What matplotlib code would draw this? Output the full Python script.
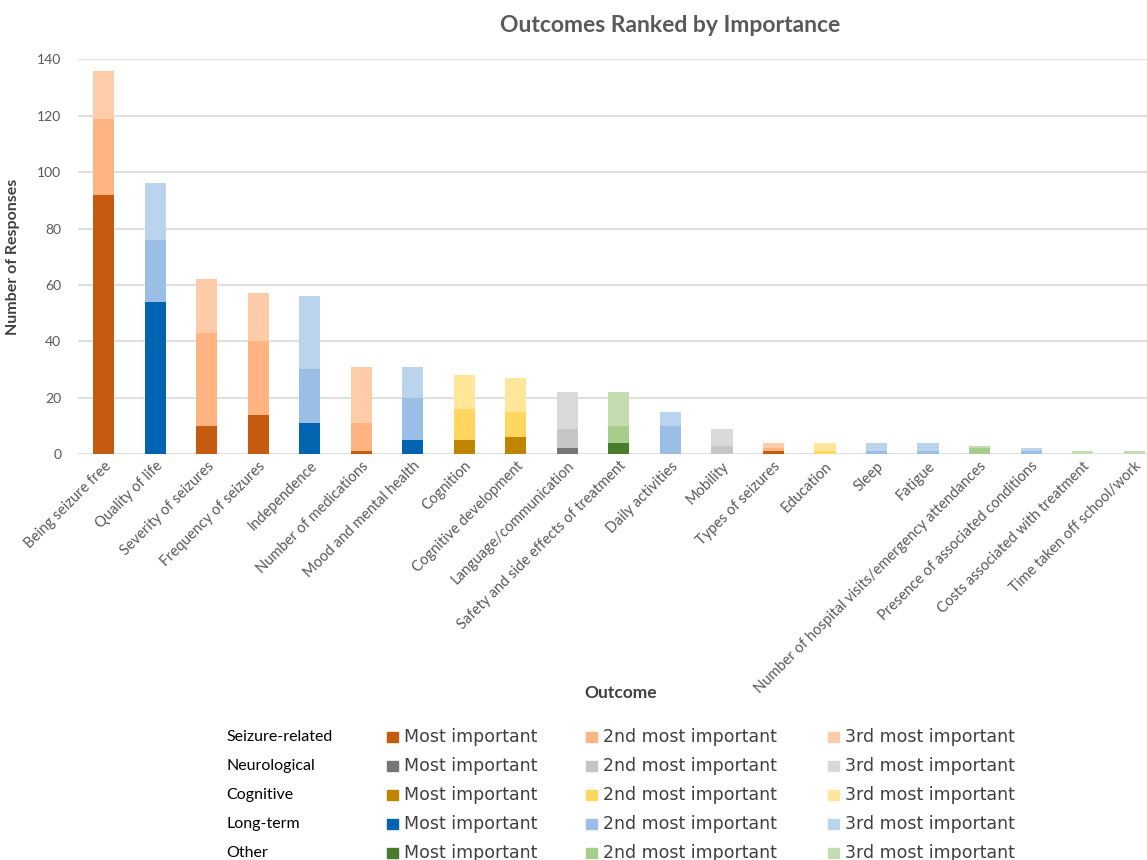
"""Stacked bar chart of outcomes ranked by importance."""

import matplotlib
matplotlib.use("Agg")
import numpy as np
from matplotlib import pyplot as plt
from matplotlib.patches import Rectangle

outcomes = [
    "Being seizure free", "Quality of life", "Severity of seizures",
    "Frequency of seizures", "Independence", "Number of medications",
    "Mood and mental health", "Cognition", "Cognitive development",
    "Language/communication", "Safety and side effects of treatment",
    "Daily activities", "Mobility", "Types of seizures", "Education",
    "Sleep", "Fatigue", "Number of hospital visits/emergency attendances",
    "Presence of associated conditions", "Costs associated with treatment",
    "Time taken off school/work",
]
outcome_group = [
    "Seizure-related", "Long-term", "Seizure-related", "Seizure-related",
    "Long-term", "Seizure-related", "Long-term", "Cognitive", "Cognitive",
    "Neurological", "Other", "Long-term", "Neurological", "Seizure-related",
    "Cognitive", "Long-term", "Long-term", "Other", "Long-term", "Other",
    "Other",
]
most_important = [92, 54, 10, 14, 11, 1, 5, 5, 6, 2, 4, 0, 0, 1, 0, 0, 0, 0, 0, 0, 0]
second_important = [27, 22, 33, 26, 19, 10, 15, 11, 9, 7, 6, 10, 3, 1, 1, 1, 1, 2, 1, 0, 0]
third_important = [17, 20, 19, 17, 26, 20, 11, 12, 12, 13, 12, 5, 6, 2, 3, 3, 3, 1, 1, 1, 1]

groups = ["Seizure-related", "Neurological", "Cognitive", "Long-term", "Other"]
rank_labels = ["Most important", "2nd most important", "3rd most important"]
group_colors = {
    "Seizure-related": ["#C55A11", "#FFB482", "#FFCCAA"],
    "Neurological": ["#767676", "#C6C6C6", "#D9D9D9"],
    "Cognitive": ["#BF8400", "#FFD660", "#FFE699"],
    "Long-term": ["#0064B0", "#9BBEE6", "#BBD4EE"],
    "Other": ["#4A7A2C", "#A6CD8C", "#C3DDB1"],
}

plt.rcParams["font.family"] = ["Lato", "DejaVu Sans"]
text_color = "#595959"

fig = plt.figure(figsize=(11.47, 8.6), dpi=100)
ax = fig.add_axes([0.068, 0.472, 0.932, 0.459])

x = np.arange(len(outcomes))
layers = [most_important, second_important, third_important]
bottom = np.zeros(len(outcomes))
for rank, values in enumerate(layers):
    colors = [group_colors[g][rank] for g in outcome_group]
    ax.bar(x, values, width=0.41, bottom=bottom, color=colors, zorder=3)
    bottom += np.array(values)

ax.set_xlim(-0.5, 20.25)
ax.set_ylim(0, 140)
ax.set_yticks(np.arange(0, 141, 20))
ax.yaxis.grid(True, color="#D9D9D9", linewidth=1.2, zorder=0)
for side in ["top", "right", "left", "bottom"]:
    ax.spines[side].set_visible(False)
ax.tick_params(axis="both", length=0, colors=text_color, labelsize=10)
ax.tick_params(axis="y", pad=12)
ax.set_xticks(x)
ax.set_xticklabels(outcomes, rotation=45, ha="right", rotation_mode="anchor",
                   fontsize=10.5, color=text_color)

ax.set_ylabel("Number of Responses", fontsize=11.5, fontweight="bold",
              color="#404040", labelpad=12)
fig.text(0.541, 0.194, "Outcome", ha="center", va="center", fontsize=12.5,
         fontweight="bold", color="#404040")
fig.text(0.584, 0.970, "Outcomes Ranked by Importance", ha="center",
         va="center", fontsize=16.5, fontweight="bold", color=text_color)

# legend table below the chart
row_y = [737, 766, 795, 824, 853]
patch_x = [387, 586, 828]
for g, py in zip(groups, row_y):
    yf = 1 - py / 860
    fig.text(226 / 1147, yf, g, ha="left", va="center", fontsize=11.5,
             color="black")
    for rank, px in enumerate(patch_x):
        fig.patches.append(Rectangle((px / 1147, yf - 5 / 860), 11 / 1147,
                                     10 / 860, transform=fig.transFigure,
                                     color=group_colors[g][rank]))
        fig.text((px + 17) / 1147, yf, rank_labels[rank], ha="left",
                 va="center", fontsize=12.5, color="#404040",
                 family=["DejaVu Sans"])

fig.savefig("out.png", dpi=100)
